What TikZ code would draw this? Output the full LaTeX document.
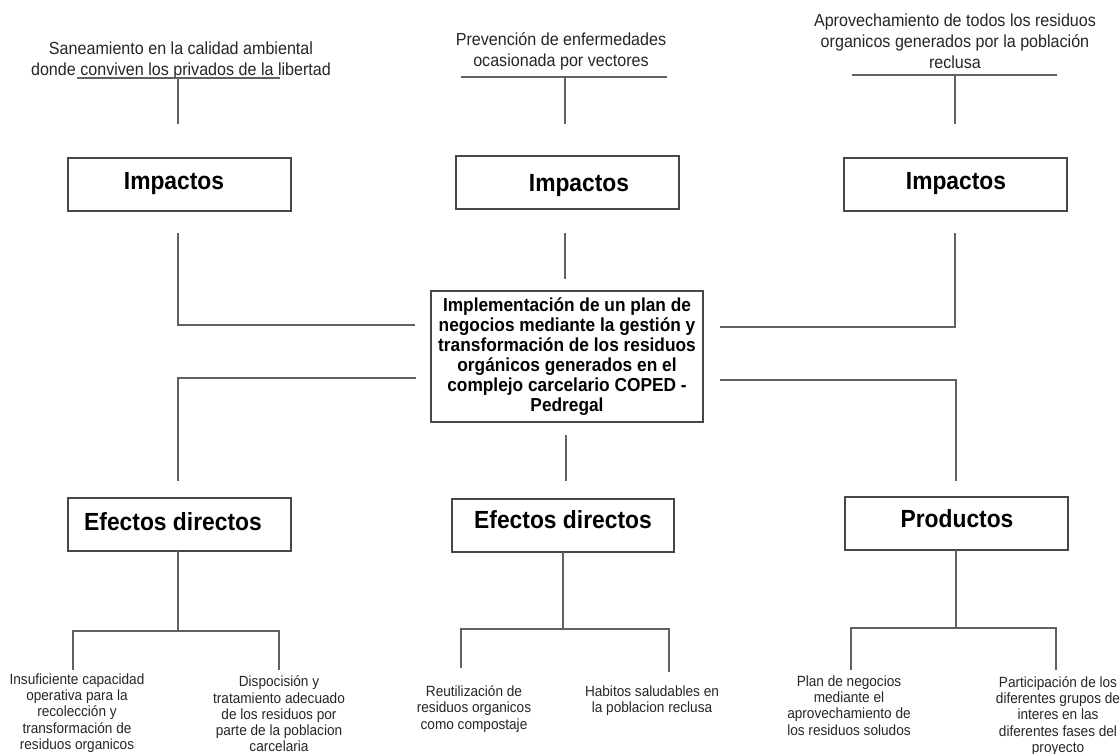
\documentclass[tikz,border=0pt]{standalone}
\usepackage{fontspec}
\setmainfont{Liberation Sans}[FakeStretch=0.92]
\begin{document}
\begin{tikzpicture}[x=1pt,y=-1pt,
  ln/.style={draw=black!62, line width=1.3pt},
  bx/.style={draw=black!72, line width=1.3pt, rectangle, inner sep=0pt},
  ttl/.style={font=\fontsize{24.8}{28}\selectfont\bfseries, inner sep=0pt},
  toptxt/.style={font=\fontsize{17.5}{21}\selectfont, align=center, inner sep=0pt, text=black!85},
  lowtxt/.style={font=\fontsize{14.8}{16.2}\selectfont, align=center, inner sep=0pt, text=black!85},
  core/.style={bx, font=\fontsize{18.8}{20}\selectfont\bfseries, align=center}]
\useasboundingbox[fill=white] (0,0) rectangle (1120,754);

% top texts
\node[toptxt] (t1) at (181,60.5) {Saneamiento en la calidad ambiental\\donde conviven los privados de la libertad};
\node[toptxt] (t2) at (561,51.5) {Prevención de enfermedades\\ocasionada por vectores};
\node[toptxt] (t3) at (955,41.5) {Aprovechamiento de todos los residuos\\organicos generados por la población\\reclusa};

% underlines and verticals
\coordinate (u1a) at (77,78);  \coordinate (u1b) at (280,78);
\coordinate (u2a) at (461,77); \coordinate (u2b) at (667,77);
\coordinate (u3a) at (852,75); \coordinate (u3b) at (1057,75);
\draw[ln] (u1a) -- (u1b);
\draw[ln] (u2a) -- (u2b);
\draw[ln] (u3a) -- (u3b);
\coordinate (v1a) at (178,78);  \coordinate (v1b) at (178,124);
\coordinate (v2a) at (565,77);  \coordinate (v2b) at (565,124);
\coordinate (v3a) at (955,75);  \coordinate (v3b) at (955,124);
\draw[ln] (v1a) -- (v1b);
\draw[ln] (v2a) -- (v2b);
\draw[ln] (v3a) -- (v3b);

% Impactos boxes
\node[bx, minimum width=223pt, minimum height=53pt] (i1) at (179.5,184.5) {};
\node[bx, minimum width=223pt, minimum height=53pt] (i2) at (567.5,182.5) {};
\node[bx, minimum width=223pt, minimum height=53pt] (i3) at (955.5,184.5) {};
\node[ttl] (i1t) at (174,184) {Impactos};
\node[ttl] (i2t) at (579,186) {Impactos};
\node[ttl] (i3t) at (956,184) {Impactos};

% central box
\node[core, minimum width=272pt, minimum height=131pt] (c) at (567,356.5)
 {Implementación de un plan de\\negocios mediante la gestión y\\transformación de los residuos\\orgánicos generados en el\\complejo carcelario COPED -\\Pedregal};

% connectors around central box
\coordinate (a1) at (178,233); \coordinate (a2) at (178,325); \coordinate (a3) at (415,325);
\draw[ln] (a1) -- (a2) -- (a3);
\coordinate (b1) at (565,233); \coordinate (b2) at (565,279);
\draw[ln] (b1) -- (b2);
\coordinate (c1) at (955,233); \coordinate (c2) at (955,327); \coordinate (c3) at (720,327);
\draw[ln] (c1) -- (c2) -- (c3);
\coordinate (d1) at (416,378); \coordinate (d2) at (178,378); \coordinate (d3) at (178,481);
\draw[ln] (d1) -- (d2) -- (d3);
\coordinate (e1) at (720,380); \coordinate (e2) at (956,380); \coordinate (e3) at (956,481);
\draw[ln] (e1) -- (e2) -- (e3);
\coordinate (f1) at (566,435); \coordinate (f2) at (566,481);
\draw[ln] (f1) -- (f2);

% lower boxes
\node[bx, minimum width=223pt, minimum height=53pt] (e1b) at (179.5,524.5) {};
\node[bx, minimum width=222pt, minimum height=53pt] (e2b) at (563,525.5) {};
\node[bx, minimum width=223pt, minimum height=53pt] (pb) at (956.5,523.5) {};
\node[ttl] (e1t) at (173,522) {Efectos directos};
\node[ttl] (e2t) at (563,520) {Efectos directos};
\node[ttl] (pt) at (957,519) {Productos};

% trees below
\coordinate (g1) at (178,551); \coordinate (g2) at (178,631);
\coordinate (g3) at (73,631); \coordinate (g4) at (279,631);
\coordinate (g5) at (73,670); \coordinate (g6) at (279,670);
\draw[ln] (g1) -- (g2);
\draw[ln] (g5) -- (g3) -- (g4) -- (g6);

\coordinate (h1) at (563,552); \coordinate (h2) at (563,629);
\coordinate (h3) at (461,629); \coordinate (h4) at (669,629);
\coordinate (h5) at (461,668); \coordinate (h6) at (669,672);
\draw[ln] (h1) -- (h2);
\draw[ln] (h5) -- (h3) -- (h4) -- (h6);

\coordinate (k1) at (956,550); \coordinate (k2) at (956,628);
\coordinate (k3) at (851,628); \coordinate (k4) at (1056,628);
\coordinate (k5) at (851,670); \coordinate (k6) at (1056,670);
\draw[ln] (k1) -- (k2);
\draw[ln] (k5) -- (k3) -- (k4) -- (k6);

% bottom texts
\node[lowtxt] (l1) at (77,713) {Insuficiente capacidad\\operativa para la\\recolección y\\transformación de\\residuos organicos};
\node[lowtxt] (l2) at (279,714) {Dispocisión y\\tratamiento adecuado\\de los residuos por\\parte de la poblacion\\carcelaria};
\node[lowtxt] (l3) at (474,709) {Reutilización de\\residuos organicos\\como compostaje};
\node[lowtxt] (l4) at (652,701) {Habitos saludables en\\la poblacion reclusa};
\node[lowtxt] (l5) at (849,705.5) {Plan de negocios\\mediante el\\aprovechamiento de\\los residuos soludos};
\node[lowtxt] (l6) at (1058,716) {Participación de los\\diferentes grupos de\\interes en las\\diferentes fases del\\proyecto};
\end{tikzpicture}
\end{document}
